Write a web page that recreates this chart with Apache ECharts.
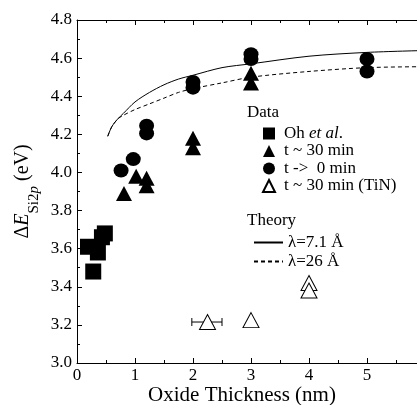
<!DOCTYPE html>
<html>
<head>
<meta charset="utf-8">
<script src="https://cdn.jsdelivr.net/npm/echarts@6/dist/echarts.min.js"></script>
<style>
  html, body { margin: 0; padding: 0; background: #fff; }
  #chart { width: 417px; height: 405px; }
</style>
</head>
<body>
<div id="chart"></div>
<script>
// measured points [thickness nm, dE eV]
const ohData = [[0.19, 3.61], [0.36, 3.58], [0.43, 3.66], [0.48, 3.68], [0.28, 3.48]];
const t30Data = [[0.81, 3.89], [1.02, 3.98], [1.2, 3.97], [1.2, 3.93], [2, 4.18], [2, 4.13], [3, 4.52], [3, 4.47]];
const t0Data = [[0.76, 4.01], [0.97, 4.07], [1.2, 4.245], [1.2, 4.205], [2, 4.475], [2, 4.445], [3, 4.62], [3, 4.595], [5, 4.595], [5, 4.53]];
const tinData = [[2.25, 3.215], [3, 3.225], [4, 3.42], [4, 3.38]];
const tinErr = [[1.98, 2.5, 3.215]];

// theory curves
const theoryX = [0.53, 0.6, 0.7, 0.8, 1.0, 1.25, 1.5, 1.75, 2.0, 2.5, 3, 4, 5, 6];
const theory71 = [4.19, 4.24, 4.28, 4.31, 4.37, 4.42, 4.46, 4.49, 4.51, 4.55, 4.57, 4.61, 4.63, 4.64];
const theory26 = [4.19, 4.24, 4.28, 4.30, 4.33, 4.36, 4.39, 4.42, 4.44, 4.47, 4.50, 4.53, 4.55, 4.555];

const serif = 'Liberation Serif';
const chart = echarts.init(document.getElementById('chart'));

const zip = (xs, ys) => xs.map((x, i) => [x, ys[i]]);

const xCommon = {
    type: 'value', min: 0, max: 6, interval: 1,
    axisLine: { show: true, lineStyle: { color: '#000', width: 1 } },
    axisTick: { show: true, inside: true, length: 5, lineStyle: { color: '#000' } },
    minorTick: { show: true, splitNumber: 2, length: 3, lineStyle: { color: '#000' } },
    splitLine: { show: false }
};

chart.setOption({
    animation: false,
    backgroundColor: '#fff',
    grid: { left: 77, right: -8, top: 20, bottom: 42, outerBoundsMode: 'none' },
    xAxis: [
        Object.assign({}, xCommon, {
            position: 'bottom',
            name: 'Oxide Thickness (nm)',
            nameLocation: 'middle',
            nameGap: 22,
            nameMoveOverlap: false,
            nameTextStyle: { fontFamily: serif, fontSize: 21, color: '#000', padding: [0, 18, 0, 0] },
            axisLabel: { fontFamily: serif, fontSize: 17, color: '#000', margin: 4 }
        }),
        Object.assign({}, xCommon, {
            position: 'top',
            axisLabel: { show: false }
        })
    ],
    yAxis: {
        type: 'value', min: 3.0, max: 4.8, interval: 0.2,
        axisLine: { show: true, lineStyle: { color: '#000', width: 1 } },
        axisTick: { show: true, inside: true, length: 5, lineStyle: { color: '#000' } },
        minorTick: { show: true, splitNumber: 2, length: 3, lineStyle: { color: '#000' } },
        splitLine: { show: false },
        axisLabel: {
            fontFamily: serif, fontSize: 17, color: '#000', margin: 5,
            formatter: v => v.toFixed(1)
        },
        name: '{m|Δ}{mi|E}{s|Si2}{si|p}{m| (eV)}',
        nameLocation: 'middle',
        nameRotate: 90,
        nameGap: 22,
        nameMoveOverlap: false,
        nameTextStyle: {
            color: '#000',
            rich: {
                m: { fontFamily: serif, fontSize: 20, lineHeight: 20, verticalAlign: 'top', color: '#000' },
                mi: { fontFamily: serif, fontSize: 20, fontStyle: 'italic', lineHeight: 20, verticalAlign: 'top', color: '#000' },
                s: { fontFamily: serif, fontSize: 15, lineHeight: 42, verticalAlign: 'middle', color: '#000' },
                si: { fontFamily: serif, fontSize: 15, fontStyle: 'italic', lineHeight: 42, verticalAlign: 'middle', color: '#000' }
            }
        }
    },
    legend: [
        {
            orient: 'vertical', left: 257, top: 120, itemWidth: 12, itemHeight: 12, itemGap: 0.5,
            data: ['Oh et al.', 't ~ 30 min', 't ->  0 min', 't ~ 30 min (TiN)'],
            textStyle: {
                fontFamily: serif, fontSize: 17, lineHeight: 14, color: '#000', padding: [0, 0, 0, 4],
                rich: { i: { fontFamily: serif, fontSize: 17, lineHeight: 14, fontStyle: 'italic', color: '#000' } }
            },
            formatter: n => n === 'Oh et al.' ? 'Oh {i|et al}.' : n
        },
        {
            orient: 'vertical', left: 248, top: 229, itemWidth: 29, itemHeight: 14, itemGap: 2,
            data: ['λ=7.1 Å', 'λ=26 Å'],
            itemStyle: { color: 'transparent', borderColor: 'transparent', borderWidth: 0, opacity: 0 },
            textStyle: { fontFamily: serif, fontSize: 17, lineHeight: 14, color: '#000' }
        }
    ],
    graphic: [
        { type: 'text', left: 247, top: 104, style: { text: 'Data', font: '17px "Liberation Serif"', fill: '#000' } },
        { type: 'text', left: 247, top: 212, style: { text: 'Theory', font: '17px "Liberation Serif"', fill: '#000' } }
    ],
    series: [
        {
            name: 'λ=7.1 Å', type: 'line', data: zip(theoryX, theory71), smooth: 0.3,
            symbol: 'none', lineStyle: { color: '#000', width: 1 }, itemStyle: { color: '#000' }
        },
        {
            name: 'λ=26 Å', type: 'line', data: zip(theoryX, theory26), smooth: 0.3,
            symbol: 'none', lineStyle: { color: '#000', width: 1, type: [4, 3] }, itemStyle: { color: '#000' }
        },
        {
            name: 'Oh et al.', type: 'scatter', data: ohData, symbol: 'rect', symbolSize: 16,
            itemStyle: { color: '#000', opacity: 1 }
        },
        {
            name: 't ->  0 min', type: 'scatter', data: t0Data, symbol: 'circle', symbolSize: [15, 14],
            itemStyle: { color: '#000', opacity: 1 }
        },
        {
            name: 't ~ 30 min', type: 'scatter', data: t30Data, symbol: 'triangle', symbolSize: [16, 15],
            itemStyle: { color: '#000', opacity: 1 }
        },
        {
            type: 'custom', data: tinErr, silent: true,
            renderItem: (params, api) => {
                const a = api.coord([api.value(0), api.value(2)]);
                const b = api.coord([api.value(1), api.value(2)]);
                const st = { stroke: '#000', lineWidth: 1 };
                return {
                    type: 'group', children: [
                        { type: 'line', shape: { x1: a[0], y1: a[1], x2: b[0], y2: b[1] }, style: st },
                        { type: 'line', shape: { x1: a[0], y1: a[1] - 4, x2: a[0], y2: a[1] + 4 }, style: st },
                        { type: 'line', shape: { x1: b[0], y1: b[1] - 4, x2: b[0], y2: b[1] + 4 }, style: st }
                    ]
                };
            }
        },
        {
            name: 't ~ 30 min (TiN)', type: 'scatter', data: tinData, symbol: 'triangle', symbolSize: [16, 15],
            itemStyle: { color: '#fff', borderColor: '#000', borderWidth: 1, opacity: 1 }
        }
    ]
});
</script>
</body>
</html>
